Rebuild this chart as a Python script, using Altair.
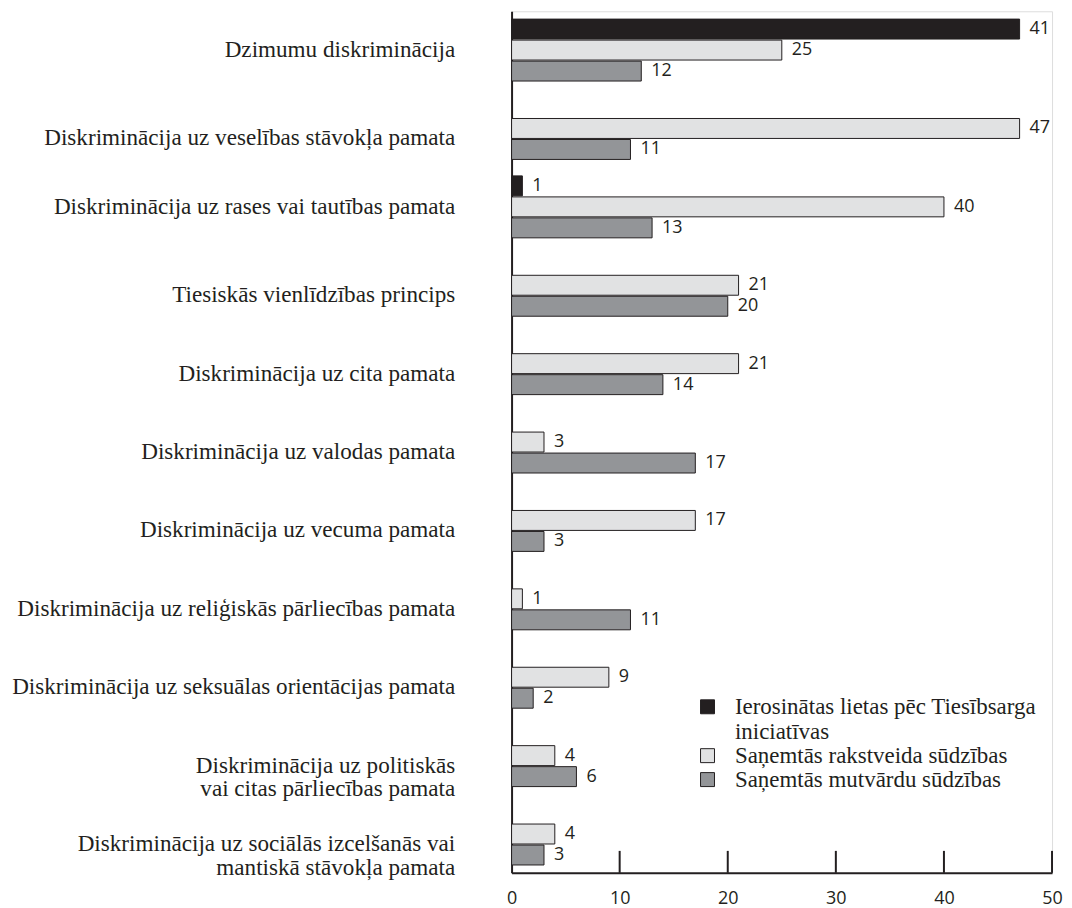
import altair as alt
import pandas as pd

categories = [
    "Dzimumu diskriminācija",
    "Diskriminācija uz veselības stāvokļa pamata",
    "Diskriminācija uz rases vai tautības pamata",
    "Tiesiskās vienlīdzības princips",
    "Diskriminācija uz cita pamata",
    "Diskriminācija uz valodas pamata",
    "Diskriminācija uz vecuma pamata",
    "Diskriminācija uz reliģiskās pārliecības pamata",
    "Diskriminācija uz seksuālas orientācijas pamata",
    "Diskriminācija uz politiskās\nvai citas pārliecības pamata",
    "Diskriminācija uz sociālās izcelšanās vai\nmantiskā stāvokļa pamata",
]

series = [
    "Ierosinātas lietas pēc Tiesībsarga\niniciatīvas",
    "Saņemtās rakstveida sūdzības",
    "Saņemtās mutvārdu sūdzības",
]

# bar lengths as drawn, and the printed value labels
initiated = [47, None, 1, None, None, None, None, None, None, None, None]
initiated_labels = ["41", None, "1", None, None, None, None, None, None, None, None]
written = [25, 47, 40, 21, 21, 3, 17, 1, 9, 4, 4]
oral = [12, 11, 13, 20, 14, 17, 3, 11, 2, 6, 3]

x_ticks = [0, 10, 20, 30, 40, 50]
colors = ["#231f20", "#e1e2e3", "#939598"]
ink = "#231f20"

rows = []
for i, c in enumerate(categories):
    if initiated[i] is not None:
        rows.append({"category": c, "series": series[0], "value": initiated[i], "label": initiated_labels[i]})
    rows.append({"category": c, "series": series[1], "value": written[i], "label": str(written[i])})
    rows.append({"category": c, "series": series[2], "value": oral[i], "label": str(oral[i])})
df = pd.DataFrame(rows)

with_black = [c for c, v in zip(categories, initiated) if v is not None]
test_expr = "indexof([" + ",".join("'" + c + "'" for c in with_black) + "], datum.value) >= 0"

x_enc = alt.X(
    "value:Q",
    scale=alt.Scale(domain=[0, 50], nice=False),
    axis=alt.Axis(
        values=x_ticks, ticks=False, grid=False, title=None,
        domainWidth=2, domainColor=ink, labelFlush=False,
        labelFont="Open Sans", labelFontSize=18, labelColor=ink, labelPadding=17,
    ),
)

y_enc = alt.Y(
    "category:N",
    sort=categories,
    scale=alt.Scale(domain=categories, paddingInner=0.21, paddingOuter=0.1),
    axis=alt.Axis(
        title=None, ticks=False, grid=False, domainWidth=2, domainColor=ink,
        labelFont="Liberation Serif", labelFontSize=23.2, labelColor=ink,
        labelPadding=57, labelLimit=700, labelLineHeight=24,
        labelExpr="split(datum.label, '\\n')",
        labelOffset={"condition": {"test": test_expr, "value": 0}, "value": 10},
    ),
)

yoff_enc = alt.YOffset("series:N", scale=alt.Scale(domain=series, paddingInner=0.05))

color_enc = alt.Color(
    "series:N",
    scale=alt.Scale(domain=series, range=colors),
    legend=alt.Legend(
        title=None, orient="none", legendX=185, legendY=686,
        symbolType="square", symbolSize=196, symbolStrokeColor=ink, symbolStrokeWidth=1,
        labelFont="Liberation Serif", labelFontSize=23, labelColor=ink,
        labelLimit=700, labelExpr="split(datum.label, '\\n')", rowPadding=0,
        labelOffset=16,
    ),
)

bars = alt.Chart(df).mark_bar(stroke=ink, strokeWidth=1).encode(
    x=x_enc, y=y_enc, yOffset=yoff_enc, color=color_enc
)

labels = alt.Chart(df).mark_text(
    align="left", baseline="middle", dx=10, font="Open Sans", fontSize=18, color=ink
).encode(x=x_enc, y=y_enc, yOffset=yoff_enc, text="label:N")

ticks_df = pd.DataFrame({"value": x_ticks[1:]})
tick_rules = alt.Chart(ticks_df).mark_rule(color=ink, strokeWidth=2).encode(
    x=x_enc, y=alt.value(842), y2=alt.value(864)
)

chart = alt.layer(bars, labels, tick_rules).properties(
    width=542, height=864,
    autosize=alt.AutoSizeParams(type="none"),
    padding={"left": 505, "top": 2, "right": 12, "bottom": 34},
).configure_view(stroke=None).configure(background="white")

chart.save("out.html", embed_options={"renderer": "svg", "actions": False})
